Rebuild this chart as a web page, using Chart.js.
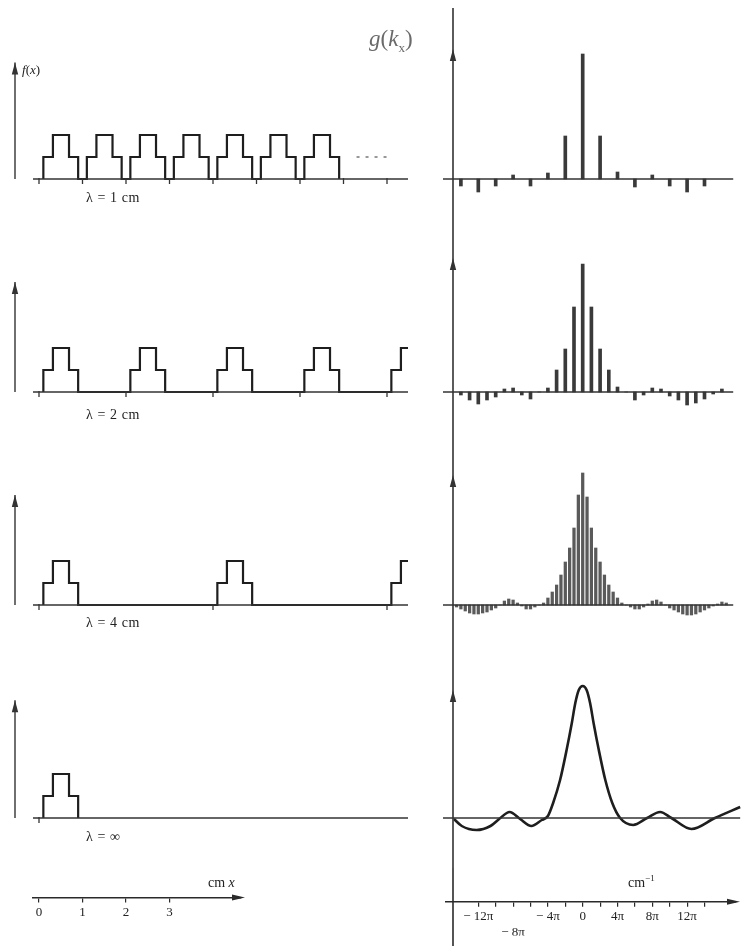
<!DOCTYPE html>
<html>
<head>
<meta charset="utf-8">
<title>Pulse trains and their Fourier spectra</title>
<script src="https://cdn.jsdelivr.net/npm/chart.js@4.4.1/dist/chart.umd.min.js"></script>
<style>
  html, body { margin: 0; padding: 0; background: #fff; }
  #page { position: relative; width: 742px; height: 946px; overflow: hidden; background: #fff; }
  #page canvas { position: absolute; }
  .lbl { position: absolute; z-index: 2; white-space: nowrap; line-height: 1;
         font-family: 'Liberation Serif', 'DejaVu Serif', serif; color: #222; }
</style>
</head>
<body>
<div id="page"></div>
<script>
// ---- data: left column, f(x) ----
const pulseEdges = [0.1, 0.32, 0.69, 0.9];   // cm, inside one period
const pulseLevels = [1, 2, 1];               // level between successive edges
const wavelengths = [1, 2, 4, Infinity];     // cm
const pulseCounts = [7, 5, 3, 1];
const rowTicks = [[0, 1, 2, 3, 4, 5, 6, 7, 8], [0, 2, 4, 6, 8], [0, 4, 8], [0]];
const rowLabels = ['λ = 1 cm', 'λ = 2 cm', 'λ = 4 cm', 'λ = ∞'];
const dotsRow1 = [7.3, 8.1];                 // the "...." after the 7th pulse
const xTicks = [0, 1, 2, 3];

// ---- data: right column, g(kx), k in units of π ----
const k1 = [-14, -12, -10, -8, -6, -4, -2, 0, 2, 4, 6, 8, 10, 12, 14];
const g1 = [-7, -13, -7, 4, -7, 6, 43, 125, 43, 7, -8, 4, -7, -13, -7];

const k2 = [-14, -13, -12, -11, -10, -9, -8, -7, -6, -5, -4, -3, -2, -1, 0,
            1, 2, 3, 4, 5, 6, 7, 8, 9, 10, 11, 12, 13, 14, 15, 16];
const g2 = [-3, -8, -12, -8, -5, 3, 4, -3, -7, 0, 4, 22, 43, 85, 128,
            85, 43, 22, 5, 0, -8, -3, 4, 3, -4, -8, -13, -11, -7, -2, 3];

const k3 = [-14.5, -14, -13.5, -13, -12.5, -12, -11.5, -11, -10.5, -10,
            -9.5, -9, -8.5, -8, -7.5, -7, -6.5, -6, -5.5, -5,
            -4.5, -4, -3.5, -3, -2.5, -2, -1.5, -1, -0.5, 0,
            0.5, 1, 1.5, 2, 2.5, 3, 3.5, 4, 4.5, 5,
            5.5, 6, 6.5, 7, 7.5, 8, 8.5, 9, 9.5, 10,
            10.5, 11, 11.5, 12, 12.5, 13, 13.5, 14, 14.5, 15,
            15.5, 16, 16.5];
const g3 = [-2, -4, -6, -8, -9, -9, -8, -7, -5, -3,
            0, 4, 6, 5, 2, -1, -4, -4, -2, 0,
            2, 7, 13, 20, 30, 43, 57, 77, 110, 132,
            108, 77, 57, 43, 30, 20, 13, 7, 2, 0,
            -2, -4, -4, -2, 1, 4, 5, 3, 0, -3,
            -5, -7, -9, -10, -10, -9, -7, -5, -3, -1,
            1, 3, 2];

const k4 = [-14.8, -13.9, -12.2, -10.6, -9.6, -8.4, -7.2, -5.9, -4.7, -4.0,
            -3.4, -2.6, -1.85, -1.25, -0.85, -0.45, 0, 0.45, 0.85, 1.25,
            1.85, 2.6, 3.4, 4.3, 5.8, 7.4, 8.9, 10.2, 12.5, 15.2, 18.1];
const g4 = [-1, -8, -12, -8, -1, 6, -1, -8, -2, 2,
            15, 38, 68, 95, 115, 128, 132, 128, 115, 95,
            68, 38, 15, 0, -7, 0, 6, 0, -11, 0, 11];

const kTicks = [-12, -10, -8, -6, -4, -2, 0, 2, 4, 6, 8, 10, 12, 14];
const kLabelled = [-12, -8, -4, 0, 4, 8, 12];
const kLowered = [-8];

// ---- layout ----
const BAND_TOP = [0, 232, 445, 658];
const BAND_H = [232, 213, 213, 210];
const BASE_Y = [179, 392, 605, 818];
const LEFT_W = 430, RIGHT_L = 430, RIGHT_W = 312;
const CM_PX = 43.5, X0_PX = 39, LEVEL_PX = 22;
const PI_PX = 8.7, K0_PX = 582.7;
const BOTTOM_TOP = 868, BOTTOM_H = 78;
const INK = '#2a2a2a';
const FONT = "'Liberation Serif', 'DejaVu Serif', serif";

const page = document.getElementById('page');

function addCanvas(left, top, w, h) {
  const c = document.createElement('canvas');
  c.width = w; c.height = h;
  c.style.left = left + 'px'; c.style.top = top + 'px';
  c.style.width = w + 'px'; c.style.height = h + 'px';
  page.appendChild(c);
  return c;
}

function addLabel(html, left, top, css) {
  const d = document.createElement('div');
  d.className = 'lbl';
  d.innerHTML = html;
  d.style.left = left + 'px';
  d.style.top = top + 'px';
  Object.assign(d.style, css || {});
  page.appendChild(d);
}

const xRange = (aL, aR, origin, px) => ({ min: (aL - origin) / px, max: (aR - origin) / px });
const yRange = (top, h, base, px) => ({ min: -(top + h - base) / px, max: (base - top) / px });

function pulseTrain(lambda, count) {
  const pts = [];
  for (let i = 0; i < count; i++) {
    const p = isFinite(lambda) ? i * lambda : 0;
    pts.push({ x: p + pulseEdges[0], y: 0 });
    pulseLevels.forEach((lv, j) => {
      pts.push({ x: p + pulseEdges[j], y: lv });
      pts.push({ x: p + pulseEdges[j + 1], y: lv });
    });
    pts.push({ x: p + pulseEdges[pulseEdges.length - 1], y: 0 });
  }
  return pts;
}

// axis lines, tick marks and arrow heads
const axisDeco = {
  id: 'axisDeco',
  afterDatasetsDraw(chart, args, o) {
    const { ctx, chartArea } = chart;
    const xs = chart.scales.x, ys = chart.scales.y;
    ctx.save();
    ctx.strokeStyle = o.color || INK;
    ctx.fillStyle = o.color || INK;
    const seg = (x1, y1, x2, y2, w) => {
      ctx.lineWidth = w; ctx.beginPath(); ctx.moveTo(x1, y1); ctx.lineTo(x2, y2); ctx.stroke();
    };
    if (o.baseline) {
      const y0 = ys.getPixelForValue(0);
      seg(xs.getPixelForValue(o.baseline[0]), y0, xs.getPixelForValue(o.baseline[1]), y0, 1.6);
      (o.ticks || []).forEach(v => {
        const px = xs.getPixelForValue(v);
        seg(px, y0 - 1, px, y0 + 5, 1.3);
      });
    }
    if (o.vAxisX !== undefined) {
      const px = xs.getPixelForValue(o.vAxisX);
      const yTop = o.vFull ? (o.vTopOffset || 0) : ys.getPixelForValue(o.arrowTip);
      const yBot = o.vFull ? chart.height : ys.getPixelForValue(0);
      seg(px, yTop, px, yBot, o.vWidth || 1.5);
      if (o.arrowTip !== undefined) {
        const tip = ys.getPixelForValue(o.arrowTip);
        ctx.beginPath();
        ctx.moveTo(px, tip);
        ctx.lineTo(px - 3.2, tip + 12);
        ctx.lineTo(px + 3.2, tip + 12);
        ctx.closePath();
        ctx.fill();
      }
    }
    if (o.hArrow) {
      const y = chartArea.bottom, x = chartArea.right + 4;
      ctx.beginPath();
      ctx.moveTo(x, y);
      ctx.lineTo(x - 13, y - 3);
      ctx.lineTo(x - 13, y + 3);
      ctx.closePath();
      ctx.fill();
    }
    ctx.restore();
  }
};

const baseOptions = () => ({
  responsive: false,
  animation: false,
  events: [],
  plugins: { legend: { display: false }, tooltip: { enabled: false } }
});

// ---- left column: pulse trains ----
const LEFT_AREA = [10, 408];
const leftArrowTips = [5.3, 5.0, 5.0, 5.35];
wavelengths.forEach((lambda, r) => {
  const cv = addCanvas(0, BAND_TOP[r], LEFT_W, BAND_H[r]);
  const xr = xRange(LEFT_AREA[0], LEFT_AREA[1], X0_PX, CM_PX);
  const yr = yRange(BAND_TOP[r], BAND_H[r], BASE_Y[r], LEVEL_PX);
  const datasets = [{
    data: pulseTrain(lambda, pulseCounts[r]),
    borderColor: '#1e1e1e', borderWidth: 2.2, pointRadius: 0, tension: 0
  }];
  if (r === 0) {
    datasets.push({
      data: dotsRow1.map(x => ({ x: x, y: 1 })),
      borderColor: '#777', borderWidth: 1.5, borderDash: [3, 6], pointRadius: 0
    });
  }
  const opts = baseOptions();
  opts.layout = { padding: { left: LEFT_AREA[0], right: LEFT_W - LEFT_AREA[1], top: 0, bottom: 0 } };
  opts.scales = {
    x: { type: 'linear', display: false, min: xr.min, max: xr.max },
    y: { display: false, min: yr.min, max: yr.max }
  };
  opts.plugins.axisDeco = {
    baseline: [(33 - X0_PX) / CM_PX, xr.max], ticks: rowTicks[r],
    vAxisX: (15 - X0_PX) / CM_PX, arrowTip: leftArrowTips[r], vWidth: 1.4, color: '#333'
  };
  new Chart(cv, { type: 'line', data: { datasets }, options: opts, plugins: [axisDeco] });
});

// ---- right column: spectra ----
const spectra = [[k1, g1], [k2, g2], [k3, g3], [k4, g4]];
const rightArrowTips = [130, 134, 130, 128];
const rightBaseEnd = [17.3, 17.3, 17.3, 18.1];
spectra.forEach(([ks, gs], r) => {
  const cv = addCanvas(RIGHT_L, BAND_TOP[r], RIGHT_W, BAND_H[r]);
  const xr = xRange(RIGHT_L, RIGHT_L + RIGHT_W, K0_PX, PI_PX);
  const yr = yRange(BAND_TOP[r], BAND_H[r], BASE_Y[r], 1);
  const pts = ks.map((k, i) => ({ x: k, y: gs[i] }));
  const isCurve = r === 3;
  const ds = isCurve
    ? { data: pts, borderColor: '#1e1e1e', borderWidth: 2.6, pointRadius: 0, cubicInterpolationMode: 'monotone' }
    : { data: pts, backgroundColor: r === 2 ? '#5a5a5a' : '#3a3a3a', borderWidth: 0,
        barThickness: r === 2 ? 2.6 : 3 };
  const opts = baseOptions();
  opts.layout = { padding: 0 };
  opts.scales = {
    x: { type: 'linear', display: false, offset: false, min: xr.min, max: xr.max, grid: { offset: false } },
    y: { display: false, min: yr.min, max: yr.max }
  };
  opts.plugins.axisDeco = {
    baseline: [(443 - K0_PX) / PI_PX, rightBaseEnd[r]], ticks: [],
    vAxisX: (453 - K0_PX) / PI_PX, vFull: true, vTopOffset: r === 0 ? 8 : 0,
    arrowTip: rightArrowTips[r], vWidth: 1.6, color: '#333'
  };
  new Chart(cv, { type: isCurve ? 'line' : 'bar', data: { datasets: [ds] }, options: opts, plugins: [axisDeco] });
});

// ---- bottom axes (native Chart.js x axes) ----
function bottomAxis(left, width, areaL, areaR, origin, px, ticks, labelFn, padBottom, extra) {
  const cv = addCanvas(left, BOTTOM_TOP, width, BOTTOM_H);
  const xr = xRange(areaL, areaR, origin, px);
  const opts = baseOptions();
  opts.layout = { padding: { left: areaL - left, right: left + width - areaR, top: 0, bottom: padBottom } };
  opts.scales = {
    x: {
      type: 'linear', position: 'bottom', min: xr.min, max: xr.max,
      afterBuildTicks: s => { s.ticks = ticks.map(v => ({ value: v })); },
      border: { display: true, color: INK, width: 1.6 },
      grid: { display: true, drawOnChartArea: false, drawTicks: true, tickLength: 5, color: INK, lineWidth: 1.2 },
      ticks: { autoSkip: false, maxRotation: 0, padding: 2, color: '#222',
               font: { family: FONT, size: 13 }, callback: labelFn }
    },
    y: { display: false, min: 0, max: 1 }
  };
  opts.plugins.axisDeco = Object.assign({ hArrow: true, color: INK }, extra || {});
  new Chart(cv, { type: 'line', data: { datasets: [] }, options: opts, plugins: [axisDeco] });
}

bottomAxis(0, LEFT_W, 33, 241, X0_PX, CM_PX, xTicks, v => String(v), 24);

const piLabel = v => {
  if (!kLabelled.includes(v)) return '';
  const txt = v === 0 ? '0' : (v < 0 ? '− ' + Math.abs(v) + 'π' : v + 'π');
  return kLowered.includes(v) ? ['', txt] : txt;
};
bottomAxis(RIGHT_L, RIGHT_W, 446, 736, K0_PX, PI_PX, kTicks, piLabel, 10.5,
  { vAxisX: (453 - K0_PX) / PI_PX, vFull: true, vWidth: 1.6, color: INK });

// ---- text labels ----
addLabel('<i>f</i>(<i>x</i>)', 22, 63, { fontSize: '13px' });
addLabel('<i>g</i>(<i>k</i><sub style="font-size:13px">x</sub>)', 369, 27, { fontSize: '23px', color: '#6a6a6a' });
const labelTops = [191, 408, 616, 830];
rowLabels.forEach((t, r) => addLabel(t, 86, labelTops[r], { fontSize: '14px', letterSpacing: '0.6px' }));
addLabel('cm <i>x</i>', 208, 876, { fontSize: '14px' });
addLabel('cm<sup style="font-size:9px">−1</sup>', 628, 874, { fontSize: '14px' });
</script>
</body>
</html>
